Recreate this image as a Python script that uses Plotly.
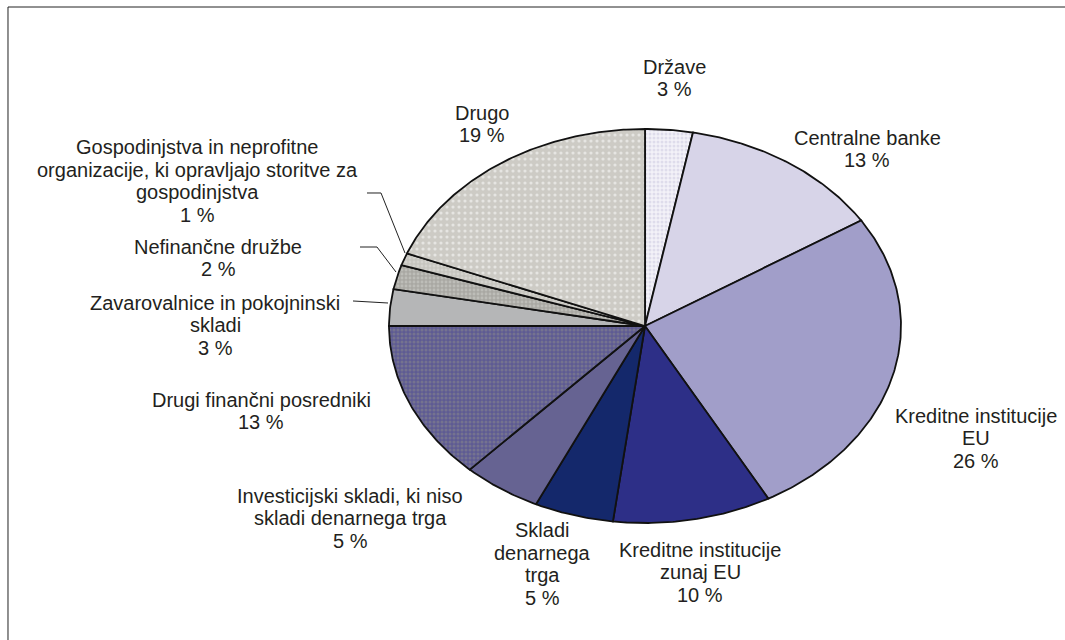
import numpy as np
import plotly.graph_objects as go

# ---- data (clockwise from 12 o'clock) ----
categories = [
    "Države",
    "Centralne banke",
    "Kreditne institucije<br>EU",
    "Kreditne institucije<br>zunaj EU",
    "Skladi<br>denarnega<br>trga",
    "Investicijski skladi, ki niso<br>skladi denarnega trga",
    "Drugi finančni posredniki",
    "Zavarovalnice in pokojninski<br>skladi",
    "Nefinančne družbe",
    "Gospodinjstva in neprofitne<br>organizacije, ki opravljajo storitve za<br>gospodinjstva",
    "Drugo",
]
values = [3, 13, 26, 10, 5, 5, 13, 3, 2, 1, 19]

# ---- styles ----
fills = ["#f3f2f8", "#d7d4e8", "#a19ec9", "#2d2f87", "#14286b", "#666392",
         "#5e5b93", "#b5b6b7", "#a9a8a3", "#c6c5bf", "#cdcbc5"]
patterns = [
    dict(shape=".", fgcolor="#c9c5de", size=4, solidity=0.45),
    None, None, None, None, None,
    dict(shape=".", fgcolor="#8c8c8c", size=4, solidity=0.45),
    None,
    dict(shape=".", fgcolor="#d2d2cd", size=4, solidity=0.4),
    dict(shape=".", fgcolor="#e2e2de", size=4, solidity=0.4),
    dict(shape=".", fgcolor="#ffffff", size=6, solidity=0.22),
]
# label block centres in pixels
label_pos = [(674, 78), (867, 149), (976, 438), (700, 572), (542, 564),
             (350, 518), (261, 411), (215, 325), (218, 258), (197, 181), (482, 124)]
LINE_H = 22.5
FONT = dict(family="Liberation Sans, Arial, sans-serif", size=20, color="#231f20")

W, H = 1065, 640
CX, CY, RX, RY = 645, 326, 256, 197

fig = go.Figure()
total = float(sum(values))
start = 0.0
for name, v, fc, pat in zip(categories, values, fills, patterns):
    a0 = start / total * 2 * np.pi
    a1 = (start + v) / total * 2 * np.pi
    start += v
    t = np.linspace(a0, a1, max(int(v * 6), 8))
    xs = np.concatenate([[0], np.sin(t), [0]])
    ys = np.concatenate([[0], np.cos(t), [0]])
    kw = dict(x=xs, y=ys, mode="lines", fill="toself", fillcolor=fc,
              line=dict(color="#111111", width=1.8), hoverinfo="skip",
              showlegend=False)
    if pat:
        p = dict(pat)
        p["bgcolor"] = fc
        kw["fillpattern"] = p
    fig.add_trace(go.Scatter(**kw))

for name, v, (px, py) in zip(categories, values, label_pos):
    lines = name.split("<br>") + [f"{v} %"]
    n = len(lines)
    for i, ln in enumerate(lines):
        ly = py + (i - (n - 1) / 2) * LINE_H
        fig.add_annotation(
            x=px / W, y=1 - ly / H, xref="paper", yref="paper",
            text=ln, showarrow=False, align="center",
            xanchor="center", yanchor="middle", font=FONT,
        )

def pline(pts):
    path = "M " + " L ".join(f"{x / W:.5f},{1 - y / H:.5f}" for x, y in pts)
    fig.add_shape(type="path", path=path, xref="paper", yref="paper",
                  line=dict(color="#222222", width=1))

# leader lines
pline([(367, 193), (381, 193), (405, 253)])
pline([(360, 247), (377, 247), (396, 272)])
pline([(353, 301), (388, 303)])
# frame (left and top)
pline([(8, H + 5), (8, 7), (W + 5, 7)])

fig.update_layout(
    width=W, height=H, margin=dict(l=0, r=0, t=0, b=0),
    paper_bgcolor="white", plot_bgcolor="white",
    xaxis=dict(range=[(0 - CX) / RX, (W - CX) / RX], visible=False, fixedrange=True),
    yaxis=dict(range=[(CY - H) / RY, CY / RY], visible=False, fixedrange=True),
)
fig.write_html("out.html",
               post_script="document.body.style.margin='0';document.body.style.overflow='hidden';",
               config={"displayModeBar": False})
